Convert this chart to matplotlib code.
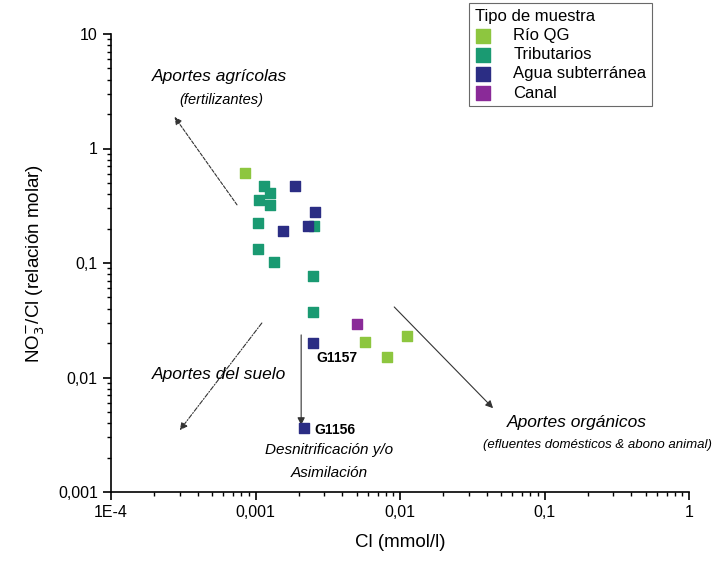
import matplotlib.pyplot as plt
from matplotlib.ticker import FixedLocator, LogLocator, NullFormatter

plt.rcParams['font.family'] = ['Liberation Sans', 'DejaVu Sans']

# Cl (mmol/l) vs NO3/Cl molar ratio
rio_cl = [0.00084, 0.0057, 0.0112, 0.0081]
rio_ratio = [0.614, 0.0205, 0.0229, 0.0151]

trib_cl = [0.00115, 0.00127, 0.00105, 0.00127, 0.00104, 0.00104, 0.00135, 0.00255, 0.00251, 0.00249]
trib_ratio = [0.473, 0.411, 0.355, 0.321, 0.222, 0.133, 0.1026, 0.212, 0.077, 0.0376]

sub_cl = [0.00189, 0.00259, 0.00156, 0.00230, 0.00251, 0.00218]
sub_ratio = [0.473, 0.277, 0.190, 0.2105, 0.0199, 0.0036]

canal_cl = [0.0050]
canal_ratio = [0.0292]

x_ticks = [1e-4, 1e-3, 1e-2, 1e-1, 1]
x_labels = ["1E-4", "0,001", "0,01", "0,1", "1"]
y_ticks = [1e-3, 1e-2, 1e-1, 1, 10]
y_labels = ["0,001", "0,01", "0,1", "1", "10"]

W, H = 715, 566
fig = plt.figure(figsize=(W / 100, H / 100), dpi=100)
ax = fig.add_axes([111 / W, 1 - 492 / H, 578 / W, 458 / H])

ms = 60
ax.scatter(rio_cl, rio_ratio, marker='s', s=ms, color='#8dc63f', label='Río QG', zorder=3)
ax.scatter(trib_cl, trib_ratio, marker='s', s=ms, color='#1a9a72', label='Tributarios', zorder=3)
ax.scatter(sub_cl, sub_ratio, marker='s', s=ms, color='#2b2d84', label='Agua subterránea', zorder=4)
ax.scatter(canal_cl, canal_ratio, marker='s', s=ms, color='#8a2a98', label='Canal', zorder=3)

ax.set_xscale('log')
ax.set_yscale('log')
ax.set_xlim(1e-4, 1)
ax.set_ylim(1e-3, 10)
ax.xaxis.set_major_locator(FixedLocator(x_ticks))
ax.set_xticklabels(x_labels)
ax.yaxis.set_major_locator(FixedLocator(y_ticks))
ax.set_yticklabels(y_labels)
ax.xaxis.set_minor_locator(LogLocator(base=10, subs=range(2, 10)))
ax.yaxis.set_minor_locator(LogLocator(base=10, subs=range(2, 10)))
ax.xaxis.set_minor_formatter(NullFormatter())
ax.yaxis.set_minor_formatter(NullFormatter())
ax.tick_params(which='major', length=6, width=1.2, labelsize=11.5, direction='out')
ax.tick_params(which='minor', length=3, width=1, direction='out')
ax.spines['top'].set_visible(False)
ax.spines['right'].set_visible(False)
ax.spines['left'].set_linewidth(1.2)
ax.spines['bottom'].set_linewidth(1.2)

ax.set_xlabel("Cl (mmol/l)", fontsize=13.5, labelpad=10)
ax.set_ylabel("NO$_3^{-}$/Cl (relación molar)", fontsize=13.5, labelpad=8)

leg = fig.legend(loc='upper left', bbox_to_anchor=(469 / W, 1 - 3 / H), title='Tipo de muestra',
                 fontsize=12, title_fontsize=12, frameon=True, fancybox=False,
                 handlelength=1.0, handletextpad=1.3, labelspacing=0.25, borderpad=0.35,
                 markerscale=1.25, borderaxespad=0)
leg.get_frame().set_edgecolor('#444444')
leg.get_frame().set_linewidth(0.8)
leg._legend_box.align = 'left'

# arrows, in axes fraction
def arrow(start, tip, ls):
    ax.annotate('', xy=tip, xytext=start, xycoords='axes fraction', textcoords='axes fraction',
                arrowprops=dict(arrowstyle='-|>', color='#333333', lw=0.8, linestyle=ls,
                                mutation_scale=11, shrinkA=0, shrinkB=0))

arrow((0.218, 0.627), (0.110, 0.819), (0, (3, 1.5)))
arrow((0.261, 0.369), (0.119, 0.135), (0, (4, 1.5, 1, 1.5)))
arrow((0.329, 0.343), (0.329, 0.146), '-')
arrow((0.490, 0.404), (0.661, 0.183), '-')

def ftext(x, y, s, **kw):
    fig.text(x / W, 1 - y / H, s, ha=kw.pop('ha', 'center'), va='center', **kw)

ftext(219, 76, "Aportes agrícolas", fontsize=12.5, style='italic')
ftext(221, 100, "(fertilizantes)", fontsize=10.5, style='italic')
ftext(219, 375, "Aportes del suelo", fontsize=12.5, style='italic')
ftext(316, 358, "G1157", fontsize=10, weight='bold', ha='left')
ftext(314, 430, "G1156", fontsize=10, weight='bold', ha='left')
ftext(329, 450, "Desnitrificación y/o", fontsize=11, style='italic')
ftext(329, 473, "Asimilación", fontsize=11, style='italic')
ftext(577, 423, "Aportes orgánicos", fontsize=12.5, style='italic')
ftext(712, 445, "(efluentes domésticos & abono animal)", fontsize=9.5, style='italic', ha='right')

fig.savefig('out.png', dpi=100)
